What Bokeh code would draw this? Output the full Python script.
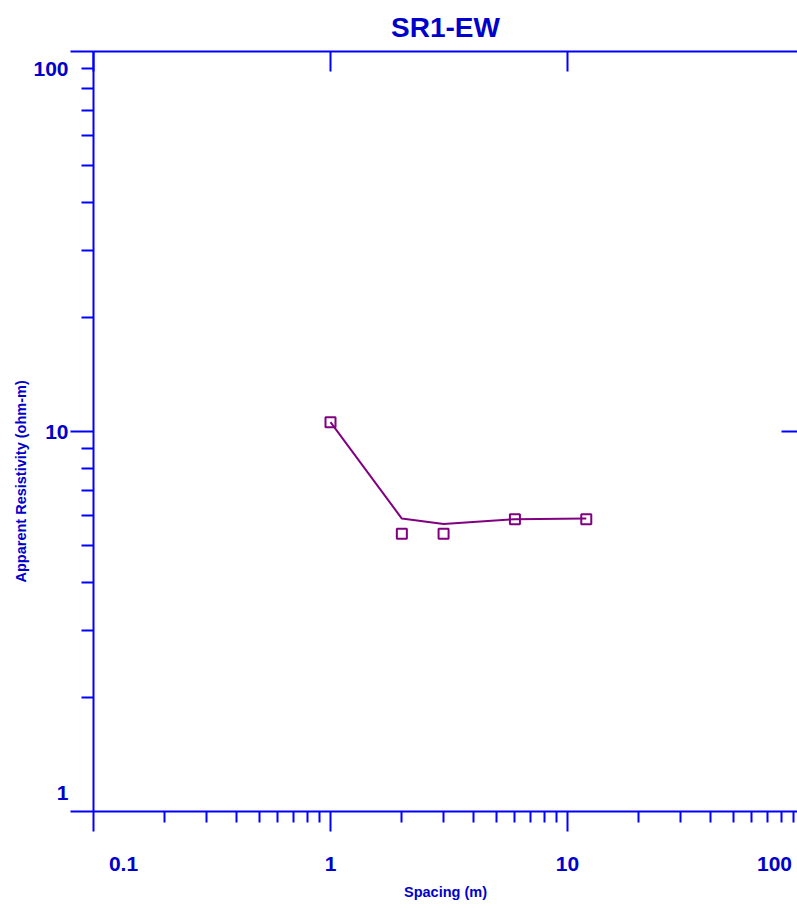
import math
from bokeh.plotting import figure
from bokeh.models import LogAxis, FixedTicker, Range1d, CustomJSTickFormatter, Title
from bokeh.embed import file_html
from bokeh.resources import INLINE

# ---- data ----
title_text = "SR1-EW"
x_label = "Spacing (m)"
y_label = "Apparent Resistivity (ohm-m)"

obs_spacing = [1, 2, 3, 6, 12]
obs_rho = [10.58, 5.38, 5.38, 5.88, 5.88]

model_spacing = [1, 2, 3, 6, 12]
model_rho = [10.58, 5.90, 5.71, 5.88, 5.90]

x_ticks = [0.1, 1, 10, 100]
x_tick_labels = ["0.1", "1", "10", "100"]
x_minor = [m * d for d in (0.1, 1, 10) for m in range(2, 10)]
y_ticks = [1, 10, 100]
y_tick_labels = ["1", "10", "100"]
y_minor = [m * d for d in (1, 10) for m in range(2, 10)]

# ---- style ----
FONT = "Liberation Sans"
AXIS_COLOR = "#0000FF"
TEXT_COLOR = "#0000CC"
DATA_COLOR = "#800080"

X_DECADE_PX = 237.0
Y_DECADE_PX = 380.0
X_START = 0.1
X_END = 0.1 * 10 ** (704 / X_DECADE_PX)   # frame clipped at window edge like the reference

# pixel shifts of the edge tick labels (reference nudges them inward)
x_label_px_shift = [30, 0, 0, -30]
y_label_px_shift = [19, 0, -17]
x_label_pos = [v * 10 ** (s / X_DECADE_PX) for v, s in zip(x_ticks, x_label_px_shift)]
y_label_pos = [v * 10 ** (s / Y_DECADE_PX) for v, s in zip(y_ticks, y_label_px_shift)]

p = figure(width=797, height=908, x_axis_type="log", y_axis_type="log",
           x_axis_location=None, y_axis_location=None,
           x_range=Range1d(X_START, X_END), y_range=Range1d(1, 100),
           output_backend="svg", toolbar_location=None,
           min_border_left=93, min_border_right=0, min_border_top=51,
           min_border_bottom=97)
p.outline_line_color = None
p.xgrid.visible = False
p.ygrid.visible = False
p.background_fill_color = "white"
p.border_fill_color = "white"

p.title.text = title_text
p.title.align = "center"
p.title.offset = 3
p.title.text_font = FONT
p.title.text_font_style = "bold"
p.title.text_font_size = "28px"
p.title.text_color = TEXT_COLOR
p.title.standoff = 18

blank = CustomJSTickFormatter(code="return ''")


def tick_axis(ticks, minor, tick_out, minor_out, tick_in=0, line=True):
    ax = LogAxis(ticker=FixedTicker(ticks=ticks, minor_ticks=minor))
    ax.axis_line_color = AXIS_COLOR if line else None
    ax.axis_line_width = 2
    ax.major_tick_line_color = AXIS_COLOR
    ax.major_tick_line_width = 2
    ax.minor_tick_line_color = AXIS_COLOR
    ax.minor_tick_line_width = 2
    ax.major_tick_out = tick_out
    ax.major_tick_in = tick_in
    ax.minor_tick_out = minor_out
    ax.minor_tick_in = 0
    ax.formatter = blank
    ax.major_label_text_font_size = "0px"
    ax.major_label_standoff = 0
    return ax


def label_axis(positions, labels, standoff):
    ax = LogAxis(ticker=FixedTicker(ticks=positions, minor_ticks=[]))
    ax.axis_line_color = None
    ax.major_tick_line_color = None
    ax.minor_tick_line_color = None
    ax.major_tick_out = 0
    ax.major_tick_in = 0
    ax.minor_tick_out = 0
    ax.minor_tick_in = 0
    ax.formatter = CustomJSTickFormatter(args=dict(labels=labels),
                                         code="return labels[index]")
    ax.major_label_text_font = FONT
    ax.major_label_text_font_style = "bold"
    ax.major_label_text_font_size = "21px"
    ax.major_label_text_color = TEXT_COLOR
    ax.major_label_standoff = standoff
    return ax


# bottom: ticks, then labels + axis title
p.add_layout(tick_axis(x_ticks, x_minor, 20, 11), "below")
bx = label_axis(x_label_pos, x_tick_labels, 25)
bx.axis_label = x_label
bx.axis_label_text_font = FONT
bx.axis_label_text_font_style = "bold"
bx.axis_label_text_font_size = "14.5px"
bx.axis_label_text_color = TEXT_COLOR
bx.axis_label_standoff = 10
p.add_layout(bx, "below")

# top: inward major ticks only
p.add_layout(tick_axis(x_ticks, [], 0, 0, tick_in=20), "above")

# left: ticks, labels, then axis title (placed lower like the reference)
p.add_layout(tick_axis(y_ticks, y_minor, 23, 12), "left")
p.add_layout(label_axis(y_label_pos, y_tick_labels, 2), "left")
p.add_layout(Title(text=y_label, align="left", offset=229, standoff=4,
                   text_font=FONT, text_font_style="bold",
                   text_font_size="14.5px", text_color=TEXT_COLOR), "left")

# right: single inward tick at 10
p.add_layout(tick_axis([10], [], 0, 0, tick_in=16, line=False), "right")

# ---- data ----
p.line(model_spacing, model_rho, line_color=DATA_COLOR, line_width=2)
p.scatter(obs_spacing, obs_rho, marker="square", size=10, fill_color=None,
          line_color=DATA_COLOR, line_width=2)

open("out.html", "w").write(file_html(p, INLINE))
